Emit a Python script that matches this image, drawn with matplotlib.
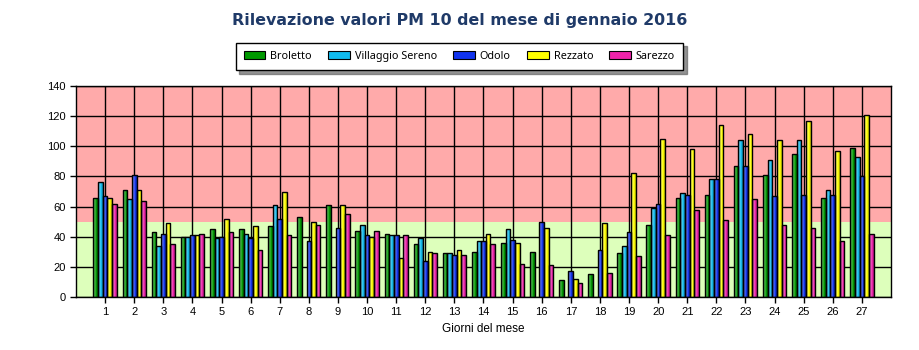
import numpy as np
import matplotlib
matplotlib.use("Agg")
import matplotlib.pyplot as plt
from matplotlib.colors import to_rgb, LinearSegmentedColormap
from matplotlib.patches import Patch

# Giorni del mese e valori PM10 (µg/m³) per stazione; NaN = dato mancante
giorni = list(range(1, 28))
nan = np.nan
broletto = [66, 71, 43, 40, 45, 45, 47, 53, 61, 44, 42, 35, 29, 30, 36, 30, 11, 15, 29, 48, 66, 68, 87, 81, 95, 66, 99]
villaggio = [76, 65, 34, 40, 39, 42, 61, nan, nan, 48, 41, 39, 29, 37, 45, nan, nan, nan, 34, 59, 69, 78, 104, 91, 104, 71, 93]
odolo = [67, 81, 42, 41, 40, 39, 52, 37, 46, 41, 41, 24, 28, 37, 38, 50, 17, 31, 43, 62, 68, 78, 87, 67, 68, 68, 80]
rezzato = [66, 71, 49, 41, 52, 47, 70, 50, 61, 40, 26, 30, 31, 42, 36, 46, 12, 49, 82, 105, 98, 114, 108, 104, 117, 97, 121]
sarezzo = [62, 64, 35, 42, 43, 31, 41, 48, 55, 44, 41, 29, 28, 35, 22, 21, 9, 16, 27, 41, 58, 51, 65, 48, 46, 37, 42]

stazioni = ["Broletto", "Villaggio Sereno", "Odolo", "Rezzato", "Sarezzo"]
serie = [broletto, villaggio, odolo, rezzato, sarezzo]
colori = ["#009900", "#11bbee", "#1133ee", "#ffff00", "#ee22aa"]

soglia = 50
ymax = 140

fig = plt.figure(figsize=(9.2, 3.5), dpi=100)
ax = fig.add_axes([76 / 920, 53 / 350, 815 / 920, 211 / 350])

# Fasce di sfondo: sotto e sopra il limite giornaliero
ax.axhspan(0, soglia, color="#ddffbb", zorder=0, lw=0)
ax.axhspan(soglia, ymax, color="#ffaaaa", zorder=0, lw=0)

x = np.array(giorni, dtype=float)
w = 0.16
grad = np.linspace(0, 1, 64).reshape(1, -1)

for i, (vals, col) in enumerate(zip(serie, colori)):
    v = np.array(vals, dtype=float)
    pos = x + (i - 2) * w
    bars = ax.bar(pos, v, width=w, color=col, zorder=2, lw=0)
    c = np.array(to_rgb(col))
    dark = c * 0.72
    light = c + (1 - c) * 0.35
    cmap = LinearSegmentedColormap.from_list("cil", [dark, light, c, dark])
    for r in bars:
        h = r.get_height()
        if not np.isfinite(h) or h <= 0:
            continue
        x0 = r.get_x()
        im = ax.imshow(grad, cmap=cmap, extent=(x0, x0 + w, 0, h),
                       aspect="auto", zorder=2.5, interpolation="bilinear")
        im.set_clip_path(r)
    ax.bar(pos, v, width=w, fill=False, edgecolor="black", lw=1, zorder=3)

ax.set_xlim(0, 28)
ax.set_ylim(0, ymax)
ax.set_xticks(giorni)
ax.set_yticks(range(0, ymax + 1, 20))
ax.grid(True, color="black", lw=1, zorder=1)
ax.set_axisbelow(True)
for s in ax.spines.values():
    s.set_color("black")
    s.set_linewidth(1)
ax.tick_params(axis="both", direction="out", length=4, width=1, color="black",
               labelsize=8, labelcolor="black")
for lab in ax.get_xticklabels() + ax.get_yticklabels():
    lab.set_fontfamily("Liberation Sans")

ax.set_xlabel("Giorni del mese", fontsize=8.5, fontfamily="Liberation Sans", labelpad=4)

fig.text(0.5, (350 - 20) / 350, "Rilevazione valori PM 10 del mese di gennaio 2016",
         ha="center", va="center", fontsize=11.4, fontweight="bold",
         color="#1f3a68", fontfamily="DejaVu Sans")

handles = [Patch(facecolor=c, edgecolor="black", lw=0.8) for c in colori]
leg = fig.legend(handles, stazioni, loc="center", bbox_to_anchor=(459.5 / 920, 293.5 / 350),
                 ncol=5, frameon=True, fancybox=False, edgecolor="black",
                 shadow={"ox": 2.5, "oy": -2.5, "color": "#666666", "alpha": 0.7},
                 prop={"family": "Noto Sans", "size": 7.8},
                 handlelength=2.0, handleheight=0.8, handletextpad=0.45,
                 columnspacing=1.5, borderpad=0.75, framealpha=1)
leg.get_frame().set_linewidth(1.0)

fig.savefig("out.png", dpi=100)
